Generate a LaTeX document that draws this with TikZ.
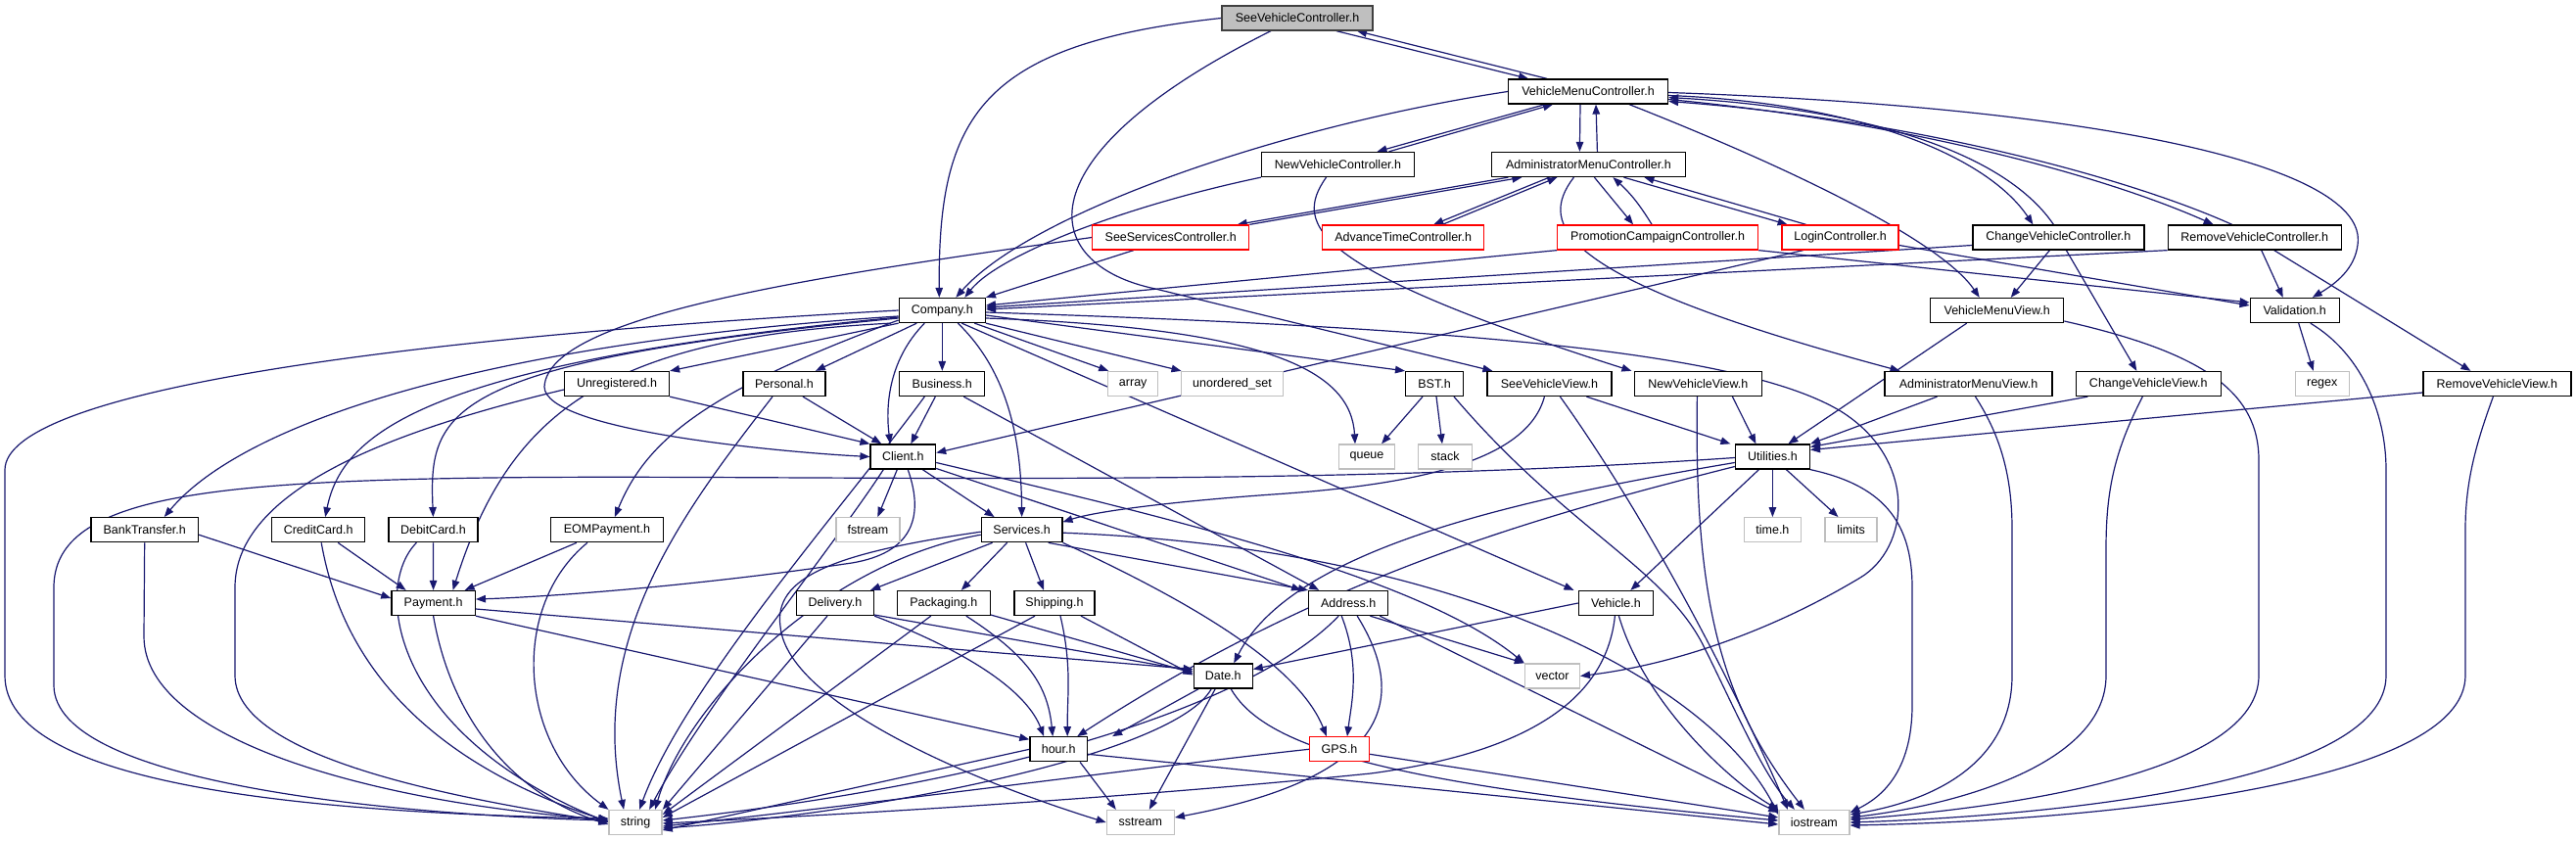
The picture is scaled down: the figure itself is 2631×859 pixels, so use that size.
\documentclass[tikz,border=0pt]{standalone}
\usepackage{fontspec}
\setmainfont{Liberation Sans}
\usetikzlibrary{arrows.meta}
\definecolor{edgec}{RGB}{25,25,112}
\definecolor{boxred}{RGB}{255,0,0}
\definecolor{boxgray}{RGB}{191,191,191}
\definecolor{rootfill}{RGB}{191,191,191}
\definecolor{rootdraw}{RGB}{64,64,64}
\newcommand{\dxfont}{\fontsize{12.5}{15}\selectfont}
\pgfdeclarelayer{bgl}
\pgfdeclarelayer{edges}
\pgfsetlayers{bgl,edges,main}
\tikzset{
  nb/.style={draw=black, line width=1.3pt, fill=white, minimum height=25pt, inner sep=0pt, text=black, font=\dxfont},
  nr/.style={nb, draw=boxred},
  ng/.style={nb, draw=boxgray},
  nroot/.style={nb, fill=rootfill, draw=rootdraw},
  e/.style={draw=edgec, line width=1.2pt, -{Triangle[length=10pt,width=7.5pt]}},
}
\begin{document}
\begin{tikzpicture}[x=1pt,y=-1pt]
\useasboundingbox (0,0) rectangle (2631,859);
\begin{pgfonlayer}{bgl}
\fill[white] (0,0) rectangle (2631,859);
\end{pgfonlayer}
% ---------------- nodes
\node[nroot, minimum width=154pt] (svc) at (1325,18.5) {SeeVehicleController.h};
\node[nb, minimum width=163pt] (vmc) at (1622,93.5) {VehicleMenuController.h};
\node[nb, minimum width=156pt] (nvc) at (1366.5,168) {NewVehicleController.h};
\node[nb, minimum width=198pt] (amc) at (1622.4,168) {AdministratorMenuController.h};
\node[nr, minimum width=160pt] (ssc) at (1195.7,242.5) {SeeServicesController.h};
\node[nr, minimum width=165pt] (atc) at (1433.2,242.5) {AdvanceTimeController.h};
\node[nr, minimum width=205pt] (pcc) at (1693.1,242.5) {PromotionCampaignController.h};
\node[nr, minimum width=119pt] (lc) at (1879.6,242.5) {LoginController.h};
\node[nb, minimum width=175pt] (cvc) at (2102.4,242.5) {ChangeVehicleController.h};
\node[nb, minimum width=177pt] (rvc) at (2302.7,242.5) {RemoveVehicleController.h};
\node[nb, minimum width=88pt] (comp) at (962.3,317) {Company.h};
\node[nb, minimum width=136pt] (vmv) at (2039.7,317) {VehicleMenuView.h};
\node[nb, minimum width=91pt] (valid) at (2343.7,317) {Validation.h};
\node[nb, minimum width=107pt] (unreg) at (630,392) {Unregistered.h};
\node[nb, minimum width=84pt] (pers) at (801,392) {Personal.h};
\node[nb, minimum width=87pt] (bus) at (962.3,392) {Business.h};
\node[ng, minimum width=51pt] (arr) at (1157.2,392) {array};
\node[ng, minimum width=104pt] (uset) at (1258.5,392) {unordered\_set};
\node[nb, minimum width=59pt] (bst) at (1465,392) {BST.h};
\node[nb, minimum width=127pt] (svv) at (1582.4,392) {SeeVehicleView.h};
\node[nb, minimum width=130pt] (nvv) at (1734.4,392) {NewVehicleView.h};
\node[nb, minimum width=171pt] (amv) at (2010.5,392) {AdministratorMenuView.h};
\node[nb, minimum width=148pt] (cvv) at (2194.3,392) {ChangeVehicleView.h};
\node[ng, minimum width=55pt] (regex) at (2371.7,392) {regex};
\node[nb, minimum width=151pt] (rvv) at (2550.4,392) {RemoveVehicleView.h};
\node[nb, minimum width=66.5pt] (client) at (922.3,466.5) {Client.h};
\node[ng, minimum width=57pt] (queue) at (1396,466.5) {queue};
\node[ng, minimum width=55pt] (stack) at (1476,466.5) {stack};
\node[nb, minimum width=76pt] (util) at (1810.4,466.5) {Utilities.h};
\node[nb, minimum width=109.5pt] (bank) at (147.7,541.2) {BankTransfer.h};
\node[nb, minimum width=95pt] (credit) at (325.2,541.2) {CreditCard.h};
\node[nb, minimum width=91pt] (debit) at (442.4,541.2) {DebitCard.h};
\node[nb, minimum width=115pt] (eom) at (619.9,541.2) {EOMPayment.h};
\node[ng, minimum width=65pt] (fstream) at (886.4,541.2) {fstream};
\node[nb, minimum width=82.5pt] (serv) at (1043.6,541.2) {Services.h};
\node[ng, minimum width=58.5pt] (timeh) at (1810.4,541.2) {time.h};
\node[ng, minimum width=53pt] (limits) at (1890.5,541.2) {limits};
\node[nb, minimum width=85.4pt] (pay) at (442.6,616) {Payment.h};
\node[nb, minimum width=79pt] (deliv) at (853,616) {Delivery.h};
\node[nb, minimum width=95pt] (pack) at (963.8,616) {Packaging.h};
\node[nb, minimum width=82pt] (ship) at (1077,616) {Shipping.h};
\node[nb, minimum width=81pt] (addr) at (1377.2,616) {Address.h};
\node[nb, minimum width=76pt] (veh) at (1650.4,616) {Vehicle.h};
\node[nb, minimum width=60pt] (date) at (1249.2,690.5) {Date.h};
\node[ng, minimum width=56pt] (vector) at (1585.4,690.5) {vector};
\node[nb, minimum width=58.5pt] (hour) at (1081.2,765.3) {hour.h};
\node[nr, minimum width=61pt] (gps) at (1368,765.3) {GPS.h};
\node[ng, minimum width=54pt] (str) at (649.1,840) {string};
\node[ng, minimum width=69pt] (sstr) at (1164.8,840) {sstream};
\node[ng, minimum width=72pt] (ios) at (1852.9,840) {iostream};
\begin{pgfonlayer}{edges}
% ---------------- edges: top controllers
\draw[e] ([xshift=40pt]svc.south) -- ([xshift=-61pt]vmc.north);
\draw[e] ([xshift=-42pt]vmc.north) -- ([xshift=61pt]svc.south);
\draw[e] (svc.west) .. controls (1000,45) and (958,120) .. ([xshift=-3pt]comp.north);
\draw[e] ([xshift=-27pt]svc.south) .. controls (1040,160) and (1060,270) .. (1180,295) -- ([xshift=-58pt]svv.north);
\draw[e] (vmc.west) .. controls (1300,130) and (1050,220) .. ([xshift=14pt]comp.north);
\draw[e] ([xshift=-44pt]vmc.south) -- ([xshift=40pt]nvc.north);
\draw[e] ([xshift=52pt]nvc.north) -- ([xshift=-36pt]vmc.south);
\draw[e] ([xshift=-8pt]vmc.south) -- ([xshift=-9pt]amc.north);
\draw[e] ([xshift=9pt]amc.north) -- ([xshift=8pt]vmc.south);
\draw[e] ([yshift=-4pt]vmc.east) .. controls (1900,105) and (2030,160) .. ([xshift=-26pt]cvc.north);
\draw[e] ([xshift=-5pt]cvc.north) .. controls (2050,160) and (1920,112) .. ([yshift=-6pt]vmc.east);
\draw[e] ([yshift=-8pt]vmc.east) .. controls (1950,125) and (2150,180) .. ([xshift=-42pt]rvc.north);
\draw[e] ([xshift=-23pt]rvc.north) .. controls (2170,180) and (1950,122) .. ([yshift=-10pt]vmc.east);
\draw[e] ([yshift=-1pt]vmc.east) .. controls (2150,110) and (2420,170) .. (2408,250) .. controls (2405,275) and (2385,290) .. ([xshift=18pt]valid.north);
\draw[e] ([xshift=42pt]vmc.south) .. controls (1850,180) and (1985,250) .. ([xshift=-18pt]vmv.north);
\draw[e] (nvc.south west) .. controls (1150,210) and (1020,260) .. ([xshift=23pt]comp.north);
\draw[e] ([xshift=-12pt]nvc.south) .. controls (1320,230) and (1340,275) .. ([xshift=-68pt]nvv.north);
\draw[e] ([xshift=-82pt]amc.south) -- ([xshift=68pt]ssc.north);
\draw[e] (ssc.north east) -- ([xshift=-68pt]amc.south);
\draw[e] ([xshift=-40pt]amc.south) -- ([xshift=31pt]atc.north);
\draw[e] ([xshift=40pt]atc.north) -- ([xshift=-32pt]amc.south);
\draw[e] ([xshift=6pt]amc.south) -- ([xshift=-25pt]pcc.north);
\draw[e] ([xshift=-6pt]pcc.north) to[bend right=8] ([xshift=25pt]amc.south);
\draw[e] ([xshift=36pt]amc.south) -- ([xshift=-54pt]lc.north);
\draw[e] ([xshift=-35pt]lc.north) -- ([xshift=57pt]amc.south);
\draw[e] ([xshift=-15pt]amc.south) .. controls (1570,230) and (1590,285) .. ([xshift=-70pt]amv.north);
\draw[e] ([xshift=-38pt]ssc.south) -- (comp.north east);
\draw[e] (ssc.west) .. controls (850,280) and (560,320) .. (556,395) .. controls (556,440) and (800,462) .. (client.west);
\draw[e] (pcc.south west) -- ([yshift=5pt]comp.east);
\draw[e] (pcc.south east) -- ([yshift=8pt]valid.west);
\draw[e] ([yshift=-8pt]lc.east) -- ([yshift=5pt]valid.west);
\draw[e] ([xshift=-38pt]lc.south) -- ([yshift=4pt]client.east);
\draw[e] ([yshift=-8pt]cvc.west) -- ([yshift=3pt]comp.east);
\draw[e] ([xshift=-9pt]cvc.south) -- ([xshift=14pt]vmv.north);
\draw[e] ([xshift=8pt]cvc.south) -- ([xshift=-12pt]cvv.north);
\draw[e] (rvc.south west) -- ([yshift=1pt]comp.east);
\draw[e] ([xshift=7pt]rvc.south) -- ([xshift=-12pt]valid.north);
\draw[e] ([xshift=20pt]rvc.south) -- ([xshift=-27pt]rvv.north);
% ---------------- views
\draw[e] ([xshift=38pt]svv.south) -- ([xshift=-43pt]util.north);
\draw[e] ([xshift=11pt]svv.south) .. controls (1690,540) and (1780,720) .. ([xshift=-27pt]ios.north);
\draw[e] ([xshift=-5pt]svv.south) .. controls (1560,470) and (1450,495) .. (1300,505) .. controls (1200,512) and (1120,522) .. ([yshift=8pt]serv.east);
\draw[e] ([xshift=35pt]nvv.south) -- ([xshift=-17pt]util.north);
\draw[e] ([xshift=-1pt]nvv.south) .. controls (1730,620) and (1760,720) .. ([xshift=-10pt]ios.north);
\draw[e] ([xshift=-32pt]amv.south) -- (util.north east);
\draw[e] ([xshift=7pt]amv.south) .. controls (2040,440) and (2055,480) .. (2055,540) -- (2055,690) .. controls (2055,770) and (1990,815) .. ([yshift=8pt]ios.east);
\draw[e] ([xshift=-31pt]vmv.south) -- ([xshift=16pt]util.north);
\draw[e] ([yshift=-11pt]vmv.east) .. controls (2250,360) and (2307,400) .. (2307,470) -- (2307,690) .. controls (2307,790) and (2050,825) .. ([yshift=3pt]ios.east);
\draw[e] ([xshift=-62pt]cvv.south) -- ([yshift=10pt]util.east);
\draw[e] ([xshift=-6pt]cvv.south) .. controls (2160,460) and (2151,500) .. (2151,560) -- (2151,690) .. controls (2151,780) and (2000,822) .. ([yshift=5pt]ios.east);
\draw[e] ([yshift=-9pt]rvv.west) -- ([yshift=7pt]util.east);
\draw[e] ([xshift=-4pt]rvv.south) .. controls (2530,450) and (2518,490) .. (2518,540) -- (2518,690) .. controls (2518,800) and (2150,838) .. ([yshift=-3pt]ios.east);
\draw[e] ([xshift=4pt]valid.south) -- ([xshift=-9pt]regex.north);
\draw[e] ([xshift=16pt]valid.south) .. controls (2410,360) and (2437,420) .. (2437,480) -- (2437,690) .. controls (2437,800) and (2100,833) .. (ios.east);
% ---------------- utilities
\draw[e] (util.south) -- (timeh.north);
\draw[e] ([xshift=14pt]util.south) -- ([xshift=-13pt]limits.north);
\draw[e] ([xshift=-14pt]util.south) -- ([xshift=15pt]veh.north);
\draw[e] ([yshift=-6pt]util.west) .. controls (1550,510) and (1320,560) .. ([xshift=11pt]date.north);
\draw[e] ([yshift=-10pt]util.west) .. controls (1560,530) and (1350,590) .. ([xshift=19pt]hour.north);
\draw[e] ([yshift=-1pt]util.west) .. controls (1300,500) and (800,484) .. (500,488) .. controls (200,492) and (55,510) .. (55,600) -- (55,700) .. controls (55,800) and (400,832) .. ([yshift=2pt]str.west);
\draw[e] (util.south east) .. controls (1920,495) and (1953,530) .. (1953,600) -- (1953,720) .. controls (1953,790) and (1920,815) .. ([yshift=10pt]ios.east);
% ---------------- BST
\draw[e] ([xshift=-12pt]bst.south) -- ([xshift=15pt]queue.north);
\draw[e] ([xshift=2pt]bst.south) -- ([xshift=-3pt]stack.north);
\draw[e] ([xshift=20pt]bst.south) .. controls (1600,540) and (1700,580) .. (1740,660) .. controls (1770,720) and (1800,790) .. ([xshift=-20pt]ios.north);
% ---------------- Company
\draw[e] (comp.south west) -- (unreg.north east);
\draw[e] ([xshift=-26pt]comp.south) -- ([xshift=32pt]pers.north);
\draw[e] (comp.south) -- (bus.north);
\draw[e] ([xshift=-18pt]comp.south) .. controls (905,370) and (905,420) .. ([xshift=-13pt]client.north);
\draw[e] ([xshift=16pt]comp.south) .. controls (1030,380) and (1043,450) .. (serv.north);
\draw[e] ([xshift=33pt]comp.south) -- ([xshift=-25pt]arr.north);
\draw[e] (comp.south east) -- ([xshift=-52pt]uset.north);
\draw[e] ([yshift=-8pt]comp.east) .. controls (1300,335) and (1380,380) .. ([xshift=-12pt]queue.north);
\draw[e] ([yshift=-5pt]comp.east) -- ([xshift=-30pt]bst.north);
\draw[e] ([xshift=20pt]comp.south) -- ([xshift=-43pt]veh.north);
\draw[e] ([yshift=-2pt]comp.east) .. controls (1500,335) and (1780,360) .. (1880,420) .. controls (1960,470) and (1950,560) .. (1900,590) .. controls (1800,650) and (1700,680) .. (vector.east);
\draw[e] ([xshift=-8pt]comp.south west) .. controls (620,345) and (520,420) .. ([xshift=20pt]pay.north);
\draw[e] ([yshift=-6pt]comp.west) .. controls (500,350) and (250,430) .. ([xshift=20pt]bank.north);
\draw[e] ([yshift=-7pt]comp.west) .. controls (440,370) and (350,440) .. ([xshift=7pt]credit.north);
\draw[e] ([yshift=-8pt]comp.west) .. controls (450,370) and (438,420) .. (debit.north);
\draw[e] ([yshift=-10pt]comp.west) .. controls (720,400) and (660,450) .. ([xshift=8pt]eom.north);
\draw[e] (comp.west) .. controls (400,345) and (5,400) .. (5,480) -- (5,690) .. controls (5,800) and (300,830) .. ([yshift=4pt]str.west);
% ---------------- clients
\draw[e] (unreg.south east) -- (client.north west);
\draw[e] ([yshift=-6pt]unreg.west) .. controls (400,440) and (240,500) .. (240,600) -- (240,690) .. controls (240,780) and (500,820) .. (str.west);
\draw[e] ([xshift=19pt]pers.south) -- ([xshift=-22pt]client.north);
\draw[e] ([xshift=-12pt]pers.south) .. controls (700,520) and (600,650) .. ([xshift=-12pt]str.north);
\draw[e] ([xshift=-7pt]bus.south) -- ([xshift=8pt]client.north);
\draw[e] ([xshift=22pt]bus.south) -- ([xshift=-30pt]addr.north);
\draw[e] ([xshift=-18pt]bus.south) .. controls (860,520) and (700,700) .. ([xshift=4pt]str.north);
\draw[e] ([xshift=-6pt]client.south) -- ([xshift=10pt]fstream.north);
\draw[e] ([xshift=20pt]client.south) -- ([xshift=-28pt]serv.north);
\draw[e] ([xshift=-20pt]client.south) .. controls (850,560) and (720,720) .. ([xshift=14pt]str.north);
\draw[e] ([xshift=5pt]client.south) .. controls (945,530) and (930,565) .. (870,575) .. controls (700,600) and (550,610) .. ([yshift=4pt]pay.east);
\draw[e] ([yshift=-12pt]client.east) -- ([xshift=-7pt]addr.north west);
\draw[e] ([yshift=-6pt]client.east) .. controls (1200,530) and (1450,590) .. (vector.north west);
% ---------------- payments
\draw[e] ([yshift=-5pt]bank.east) -- ([yshift=5pt]pay.west);
\draw[e] (bank.south) -- (147,650) .. controls (147,760) and (400,822) .. ([yshift=3pt]str.west);
\draw[e] ([xshift=20pt]credit.south) -- ([xshift=-28pt]pay.north);
\draw[e] ([xshift=3pt]credit.south) .. controls (340,620) and (380,760) .. ([yshift=1pt]str.west);
\draw[e] (debit.south) -- (pay.north);
\draw[e] ([xshift=-17pt]debit.south) .. controls (380,600) and (400,750) .. (str.west);
\draw[e] ([xshift=-31pt]eom.south) -- ([xshift=32pt]pay.north);
\draw[e] ([xshift=-20pt]eom.south) .. controls (520,620) and (530,760) .. (str.north west);
\draw[e] (pay.south) .. controls (460,730) and (520,810) .. ([yshift=-2pt]str.west);
\draw[e] ([yshift=-6pt]pay.east) -- ([yshift=7pt]date.west);
\draw[e] (pay.south east) -- ([yshift=10pt]hour.west);
% ---------------- services
\draw[e] ([xshift=-30pt]serv.south) -- ([xshift=36pt]deliv.north);
\draw[e] ([xshift=-15pt]serv.south) -- ([xshift=18pt]pack.north);
\draw[e] ([xshift=4pt]serv.south) -- ([xshift=-11pt]ship.north);
\draw[e] ([xshift=27pt]serv.south) -- (addr.north west);
\draw[e] (serv.south east) .. controls (1250,630) and (1330,690) .. ([xshift=-13pt]gps.north);
\draw[e] ([yshift=-2pt]serv.west) .. controls (850,565) and (790,590) .. (797,640) .. controls (805,720) and (1000,800) .. (sstr.west);
\draw[e] ([yshift=-5pt]serv.west) .. controls (840,575) and (700,720) .. ([xshift=20pt]str.north);
\draw[e] ([yshift=-3pt]serv.east) .. controls (1500,560) and (1750,700) .. ([yshift=8pt]ios.west);
\draw[e] ([yshift=-12pt]deliv.east) -- ([yshift=5pt]date.west);
\draw[e] (deliv.south east) .. controls (1000,670) and (1050,710) .. ([xshift=-15pt]hour.north);
\draw[e] ([xshift=-8pt]deliv.south) -- (str.north east);
\draw[e] ([yshift=-12pt]pack.east) -- ([yshift=3pt]date.west);
\draw[e] ([xshift=23pt]pack.south) .. controls (1050,670) and (1070,700) .. ([xshift=-6pt]hour.north);
\draw[e] ([xshift=-13pt]pack.south) -- ([yshift=8pt]str.east);
\draw[e] ([xshift=27pt]ship.south) -- ([yshift=1pt]date.west);
\draw[e] ([xshift=6pt]ship.south) .. controls (1095,680) and (1090,710) .. ([xshift=9pt]hour.north);
\draw[e] ([xshift=-20pt]ship.south) -- ([yshift=5pt]str.east);
% ---------------- address, vehicle, gps
\draw[e] ([xshift=-7pt]addr.south) .. controls (1390,680) and (1380,720) .. ([xshift=8pt]gps.north);
\draw[e] ([xshift=-19pt]addr.south east) -- (vector.north west);
\draw[e] ([xshift=-9pt]addr.south east) -- ([yshift=10pt]ios.west);
\draw[e] ([xshift=9pt]addr.south) .. controls (1430,700) and (1440,790) .. ([yshift=5pt]sstr.east);
\draw[e] ([xshift=-10pt]addr.south) .. controls (1300,700) and (1100,790) .. ([yshift=2pt]str.east);
\draw[e] (veh.west) -- ([yshift=7pt]date.east);
\draw[e] ([xshift=-1pt]veh.south) .. controls (1640,720) and (1550,770) .. (1400,790) .. controls (1150,815) and (900,830) .. ([yshift=-1pt]str.east);
\draw[e] ([xshift=3pt]veh.south) .. controls (1680,720) and (1770,800) .. (ios.north west);
\draw[e] (gps.west) .. controls (1200,780) and (900,820) .. ([yshift=-4pt]str.east);
\draw[e] ([yshift=-5pt]gps.east) -- ([yshift=5pt]ios.west);
% ---------------- date, hour
\draw[e] ([xshift=-25pt]date.south) -- ([xshift=25pt]hour.north east);
\draw[e] ([xshift=-12pt]date.south) .. controls (1200,770) and (900,830) .. ([yshift=-6pt]str.east);
\draw[e] ([xshift=-8pt]date.south) -- ([xshift=9pt]sstr.north);
\draw[e] ([xshift=8pt]date.south) .. controls (1290,760) and (1400,800) .. ([yshift=2pt]ios.west);
\draw[e] (hour.west) -- ([yshift=-8pt]str.east);
\draw[e] ([xshift=-8pt]hour.south east) -- ([xshift=-25pt]sstr.north);
\draw[e] ([yshift=-5pt]hour.east) -- ([yshift=-2pt]ios.west);
\end{pgfonlayer}
\end{tikzpicture}
\end{document}
